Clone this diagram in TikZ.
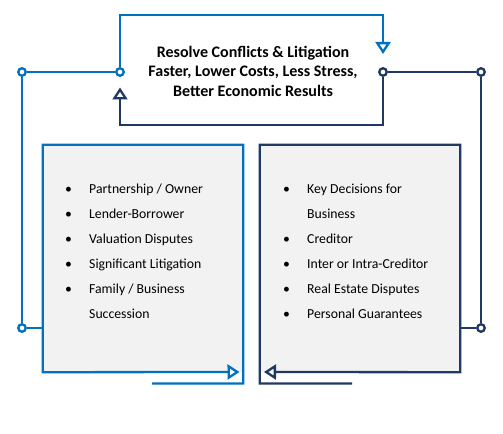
\documentclass[tikz,border=0pt]{standalone}
\usepackage{fontspec}
\setmainfont{Carlito}
\usetikzlibrary{arrows.meta}
\definecolor{loopBlue}{HTML}{0070C0}
\definecolor{loopNavy}{HTML}{1F3864}
\definecolor{boxGrey}{HTML}{F2F2F2}

\begin{document}
\begin{tikzpicture} [
    x=1bp, y=-1bp,
    blueLine/.style={-, line width=2.3bp, color=loopBlue},
    navyLine/.style={-, line width=2.3bp, color=loopNavy},
    blueEdge/.style={blueLine, -{Triangle[open, length=12bp, width=15bp]}},
    navyEdge/.style={navyLine, -{Triangle[open, length=12bp, width=15bp]}},
    blueJoint/.style={circle, draw=loopBlue, fill=white, line width=2.3bp, minimum size=7.5bp, inner sep=0pt},
    navyJoint/.style={circle, draw=loopNavy, fill=white, line width=2.3bp, minimum size=7.5bp, inner sep=0pt},
    topicBox/.style={rectangle, fill=boxGrey, minimum width=200bp, minimum height=227bp},
    topicList/.style={anchor=north west, inner sep=0pt, align=left, font=\fontsize{13.8}{25}\selectfont}
]

\useasboundingbox (0,0) rectangle (503,434);

\node[topicBox] (leftBox) at (143,258.5) {};
\node[topicBox] (rightBox) at (360,258.5) {};

\node[font=\bfseries\fontsize{16.1}{19.5}\selectfont, align=center] (title) at (253,71) {Resolve Conflicts \& Litigation\\Faster, Lower Costs, Less Stress,\\Better Economic Results};

\node[topicList] (leftList) at (65,184) {\makebox[24bp][l]{\textbullet}Partnership / Owner\\\makebox[24bp][l]{\textbullet}Lender-Borrower\\\makebox[24bp][l]{\textbullet}Valuation Disputes\\\makebox[24bp][l]{\textbullet}Significant Litigation\\\makebox[24bp][l]{\textbullet}Family / Business\\\hspace*{24bp}Succession};

\node[topicList] (rightList) at (283,184) {\makebox[24bp][l]{\textbullet}Key Decisions for\\\hspace*{24bp}Business\\\makebox[24bp][l]{\textbullet}Creditor\\\makebox[24bp][l]{\textbullet}Inter or Intra-Creditor\\\makebox[24bp][l]{\textbullet}Real Estate Disputes\\\makebox[24bp][l]{\textbullet}Personal Guarantees};

\node[blueJoint] (cTL) at (22,72) {};
\node[blueJoint] (cTI) at (120,72) {};
\node[blueJoint] (cBL) at (22,328) {};
\node[navyJoint] (cTR) at (383,72) {};
\node[navyJoint] (cRR) at (481,72) {};
\node[navyJoint] (cBR) at (481,328) {};

\coordinate (topTip) at (383,54);
\coordinate (upTip) at (120,87.5);
\coordinate (leftTail) at (152,383.5);
\coordinate (leftTip) at (239.5,372);
\coordinate (rightTail) at (352,383.5);
\coordinate (rightTip) at (264,372);

\draw[blueEdge] (cTI.north) -- ++(0,-52) -| (topTip);
\draw[navyEdge] (cTR.south) -- ++(0,48) -| (upTip);

\draw[blueLine] (cTL) -- (cTI);
\draw[blueLine] (cTL) -- (cBL);
\draw[blueLine] (cBL) -- (cBL -| leftBox.west);

\draw[navyLine] (cRR) -- (cTR);
\draw[navyLine] (cRR) -- (cBR);
\draw[navyLine] (cBR) -- (cBR -| rightBox.east);

\draw[blueEdge] (leftTail) -| (leftBox.north east) -- (leftBox.north west) -- (leftBox.south west) -- (leftTip);
\draw[navyEdge] (rightTail) -| (rightBox.north west) -- (rightBox.north east) -- (rightBox.south east) -- (rightTip);

\end{tikzpicture}
\end{document}
